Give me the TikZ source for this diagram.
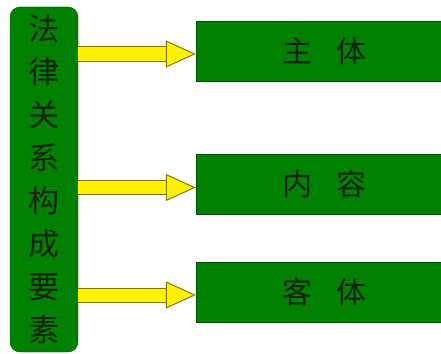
\documentclass[tikz,border=0pt]{standalone}
\usepackage{fontspec}
\newfontfamily\cjk{Noto Sans CJK SC}
\usetikzlibrary{arrows.meta}
\definecolor{boxgreen}{RGB}{0,128,0}
\definecolor{boxline}{RGB}{0,80,0}
\definecolor{arrowline}{RGB}{128,120,0}
\definecolor{textdark}{RGB}{20,35,10}
\tikzstyle{fatarrow} = [draw=arrowline, line width=1pt, double=yellow, double distance=13pt, -{Triangle[length=30pt,width=27pt,fill=yellow,line width=1pt]}]
\tikzstyle{roundRec} = [rectangle, rounded corners=10pt, minimum width=68pt, minimum height=345pt, text centered, align=center, fill=boxgreen, draw=boxline, text=textdark, font=\cjk\fontsize{31}{43}\selectfont]
\tikzstyle{rec} = [rectangle, minimum width=256pt, minimum height=60pt, text centered, fill=boxgreen, draw=boxline, text=textdark, font=\cjk\fontsize{30}{36}\selectfont]

\begin{document}
\begin{tikzpicture}[x=1pt, y=-1pt]
		\useasboundingbox (0,0) rectangle (441,353);
		\node (elements) [roundRec] at (44,179.5) {法\\律\\关\\系\\构\\成\\要\\素};
		\node (subject) [rec] at (324,51) {主\hspace{0.8em}体};
		\node (content) [rec] at (324,184.5) {内\hspace{0.8em}容};
		\node (object) [rec] at (324,292) {客\hspace{0.8em}体};
		\coordinate (subjectIn) at ([yshift=-3pt]subject.west);
		\coordinate (contentIn) at ([yshift=-3pt]content.west);
		\coordinate (objectIn) at ([yshift=-3pt]object.west);
		\draw [fatarrow] (elements.east |- subjectIn) -- (subjectIn);
		\draw [fatarrow] (elements.east |- contentIn) -- (contentIn);
		\draw [fatarrow] (elements.east |- objectIn) -- (objectIn);
	\end{tikzpicture}
\end{document}
